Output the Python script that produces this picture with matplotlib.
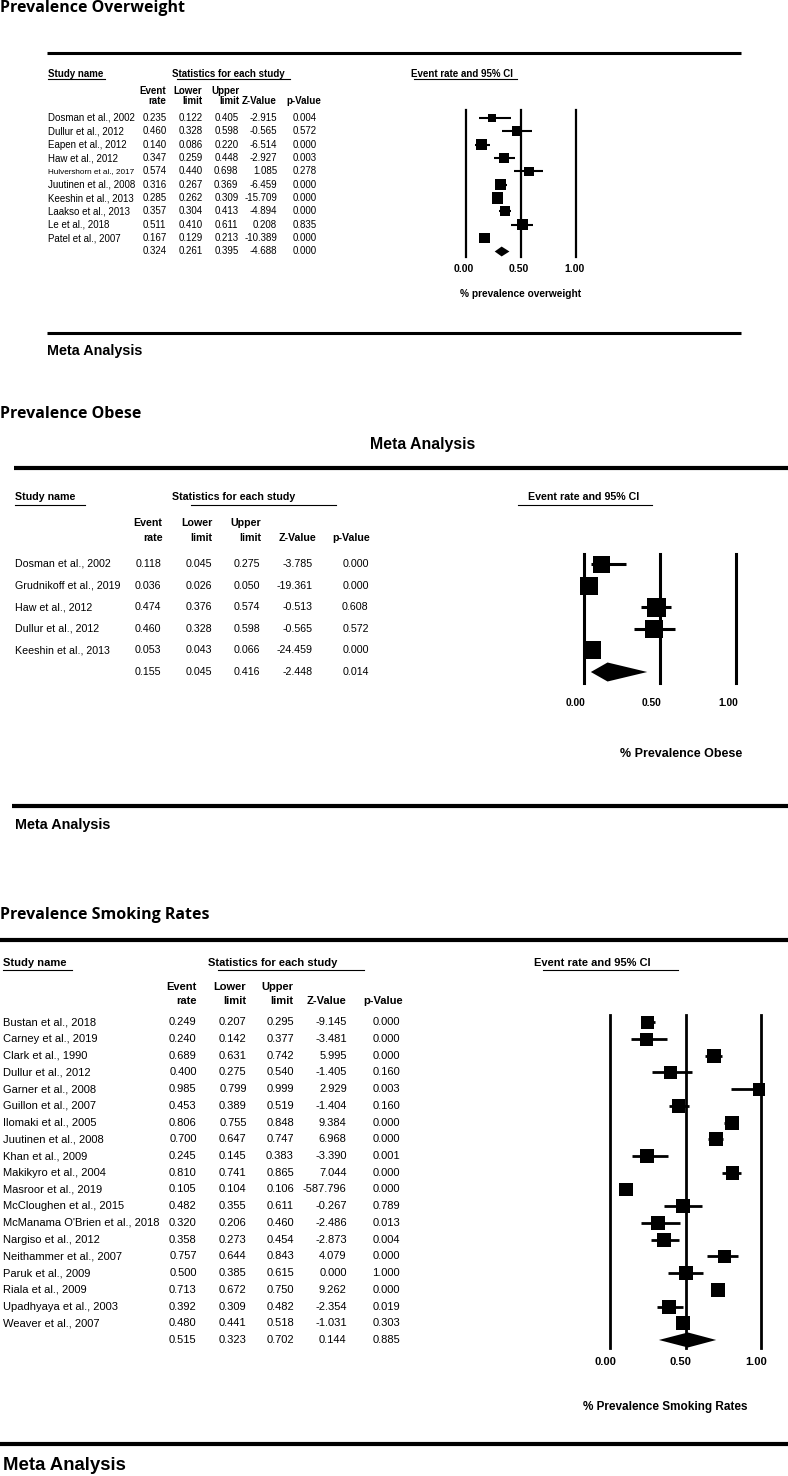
import matplotlib
matplotlib.use("Agg")
import matplotlib.pyplot as plt
from matplotlib.transforms import ScaledTranslation

W, H, DPI = 788, 1476, 100

# ---------------- data ----------------
ow_studies = ["Dosman et al., 2002", "Dullur et al., 2012", "Eapen et al., 2012", "Haw et al., 2012",
              "Hulvershorn et al., 2017", "Juutinen et al., 2008", "Keeshin et al., 2013",
              "Laakso et al., 2013", "Le et al., 2018", "Patel et al., 2007"]
ow_rate = [0.235, 0.460, 0.140, 0.347, 0.574, 0.316, 0.285, 0.357, 0.511, 0.167]
ow_lower = [0.122, 0.328, 0.086, 0.259, 0.440, 0.267, 0.262, 0.304, 0.410, 0.129]
ow_upper = [0.405, 0.598, 0.220, 0.448, 0.698, 0.369, 0.309, 0.413, 0.611, 0.213]
ow_z = [-2.915, -0.565, -6.514, -2.927, 1.085, -6.459, -15.709, -4.894, 0.208, -10.389]
ow_p = [0.004, 0.572, 0.000, 0.003, 0.278, 0.000, 0.000, 0.000, 0.835, 0.000]
ow_summary = [0.324, 0.261, 0.395, -4.688, 0.000]

ob_studies = ["Dosman et al., 2002", "Grudnikoff et al., 2019", "Haw et al., 2012",
              "Dullur et al., 2012", "Keeshin et al., 2013"]
ob_rate = [0.118, 0.036, 0.474, 0.460, 0.053]
ob_lower = [0.045, 0.026, 0.376, 0.328, 0.043]
ob_upper = [0.275, 0.050, 0.574, 0.598, 0.066]
ob_z = [-3.785, -19.361, -0.513, -0.565, -24.459]
ob_p = [0.000, 0.000, 0.608, 0.572, 0.000]
ob_summary = [0.155, 0.045, 0.416, -2.448, 0.014]

sm_studies = ["Bustan et al., 2018", "Carney et al., 2019", "Clark et al., 1990", "Dullur et al., 2012",
              "Garner et al., 2008", "Guillon et al., 2007", "Ilomaki et al., 2005", "Juutinen et al., 2008",
              "Khan et al., 2009", "Makikyro et al., 2004", "Masroor et al., 2019", "McCloughen et al., 2015",
              "McManama O'Brien et al., 2018", "Nargiso et al., 2012", "Neithammer et al., 2007",
              "Paruk et al., 2009", "Riala et al., 2009", "Upadhyaya et al., 2003", "Weaver et al., 2007"]
sm_rate = [0.249, 0.240, 0.689, 0.400, 0.985, 0.453, 0.806, 0.700, 0.245, 0.810, 0.105, 0.482, 0.320,
           0.358, 0.757, 0.500, 0.713, 0.392, 0.480]
sm_lower = [0.207, 0.142, 0.631, 0.275, 0.799, 0.389, 0.755, 0.647, 0.145, 0.741, 0.104, 0.355, 0.206,
            0.273, 0.644, 0.385, 0.672, 0.309, 0.441]
sm_upper = [0.295, 0.377, 0.742, 0.540, 0.999, 0.519, 0.848, 0.747, 0.383, 0.865, 0.106, 0.611, 0.460,
            0.454, 0.843, 0.615, 0.750, 0.482, 0.518]
sm_z = [-9.145, -3.481, 5.995, -1.405, 2.929, -1.404, 9.384, 6.968, -3.390, 7.044, -587.796, -0.267,
        -2.486, -2.873, 4.079, 0.000, 9.262, -2.354, -1.031]
sm_p = [0.000, 0.000, 0.000, 0.160, 0.003, 0.160, 0.000, 0.000, 0.001, 0.000, 0.000, 0.789, 0.013,
        0.004, 0.000, 1.000, 0.000, 0.019, 0.303]
sm_summary = [0.515, 0.323, 0.702, 0.144, 0.885]

axis_ticks = [0.0, 0.5, 1.0]
tick_labels = ["0.00", "0.50", "1.00"]
header_top = ["Event", "Lower", "Upper", "", ""]
header_bottom = ["rate", "limit", "limit", "Z-Value", "p-Value"]

# ---------------- style / layout ----------------
ARIAL = ["Liberation Sans", "DejaVu Sans"]
TITLE = ["Open Sans", "DejaVu Sans"]
NARROW = ["Liberation Sans", "DejaVu Sans"]

ow_box_px = [8.7, 10, 10.7, 10, 9.7, 10.7, 11.3, 10, 11, 10.3]
ob_box_px = [17, 18, 19, 18, 18]
sm_box_px = [13.3, 13, 14, 13.7, 12.7, 13.7, 14, 14, 14, 13.7, 13.7, 14, 14, 14, 13.7, 14, 13.7, 14, 14]

fig = plt.figure(figsize=(W / DPI, H / DPI), dpi=DPI)
bg = fig.add_axes([0, 0, 1, 1])
bg.set_xlim(0, W)
bg.set_ylim(H, 0)
bg.axis("off")


def hrule(x0, x1, y, lw):
    bg.plot([x0, x1], [y, y], color="black", lw=lw, solid_capstyle="butt")


def section(L, studies, rate, lower, upper, z, p, summary, boxes):
    fs = L["fs"]
    # title
    bg.text(0, L["title_y"], L["title"], family=TITLE, fontweight="bold", fontsize=L["title_fs"],
            ha="left", va="center")
    hrule(L["rule_x0"], L["rule_x1"], L["rule_top"], L["rule_lw"])
    hrule(L["rule_x0b"], L["rule_x1"], L["rule_bot"], L["rule_lw"])
    bg.text(L["meta_x"], L["meta_y"], "Meta Analysis", family=NARROW, fontweight="bold",
            fontsize=L["meta_fs"], ha="left", va="center")
    # headings
    bg.text(L["name_x"], L["head_y"], "Study name", family=ARIAL, fontweight="bold", fontsize=L["hfs"],
            ha="left", va="center")
    bg.text(L["stat_x"], L["head_y"], "Statistics for each study", family=ARIAL, fontweight="bold",
            fontsize=L["hfs"], ha="left", va="center")
    bg.text(L["er_x"], L["head_y"], "Event rate and 95% CI", family=ARIAL, fontweight="bold",
            fontsize=L["hfs"], ha=L["er_ha"], va="center")
    for (a, b) in L["underlines"]:
        bg.plot([a, b], [L["ul_y"], L["ul_y"]], color="black", lw=0.8)
    for xr, t1, t2 in zip(L["hcols"], header_top, header_bottom):
        bg.text(xr, L["h1_y"], t1, family=ARIAL, fontweight="bold", fontsize=L["hfs"], ha="right", va="center")
        bg.text(xr, L["h2_y"], t2, family=ARIAL, fontweight="bold", fontsize=L["hfs"], ha="right", va="center")
    # table rows
    n = len(studies)
    for i in range(n + 1):
        y = L["y0"] + i * L["step"]
        if i < n:
            nfs = fs * 0.84 if len(studies[i]) > 22 and L.get("shrink", False) else fs
            bg.text(L["name_x"], y, studies[i], family=ARIAL, fontsize=nfs, ha="left", va="center")
            vals = [rate[i], lower[i], upper[i], z[i], p[i]]
        else:
            vals = summary
        for xr, v in zip(L["vcols"], vals):
            bg.text(xr, y, f"{v:.3f}", family=ARIAL, fontsize=fs, ha="right", va="center")
    # forest axes
    x0, x1, yt, yb, y0, st = L["fx0"], L["fx1"], L["fyt"], L["fyb"], L["y0"], L["step"]
    ax = fig.add_axes([x0 / W, 1 - yb / H, (x1 - x0) / W, (yb - yt) / H])
    ax.set_xlim(0, 1)
    ax.set_ylim((yb - y0) / st, (yt - y0) / st)
    ax.axis("off")
    for t in axis_ticks:
        ax.axvline(t, color="black", lw=L["vlw"], clip_on=False)
    rows = list(range(n))
    ax.hlines(rows, lower, upper, color="black", lw=L["cilw"], clip_on=False)
    ax.scatter(rate, rows, s=[(b * 0.72) ** 2 for b in boxes], marker="s", color="black",
               linewidths=0, clip_on=False, zorder=3)
    est, lo, hi = summary[0], summary[1], summary[2]
    h = L["dia_half"]
    ax.fill([lo, est, hi, est], [n, n - h, n, n + h], color="black", lw=0, clip_on=False, zorder=3)
    ly = (yb - L["tick_y"]) / (yb - yt)
    off = ScaledTranslation(L["tick_dx"] / DPI, 0, fig.dpi_scale_trans)
    for t, lab in zip(axis_ticks, tick_labels):
        ax.text(t, ly, lab, transform=ax.get_xaxis_transform() + off, family=ARIAL, fontweight="bold",
                fontsize=L["tfs"], ha="center", va="center", clip_on=False)
    bg.text(L["xl_x"], L["xl_y"], L["xlabel"], family=ARIAL, fontweight="bold", fontsize=L["xlfs"],
            ha="center", va="center")


ow_layout = dict(title="Prevalence Overweight", title_y=8, title_fs=11.5,
                 rule_x0=47, rule_x0b=47, rule_x1=741, rule_top=53, rule_bot=333, rule_lw=2.2,
                 meta_x=47, meta_y=351, meta_fs=10.4,
                 name_x=48, head_y=74, stat_x=172, er_x=411, er_ha="left", hfs=7.0,
                 underlines=[(48, 105), (177, 290), (414, 517)], ul_y=78.5,
                 h1_y=90.5, h2_y=100.5, hcols=[166.5, 202.5, 240, 277, 321],
                 y0=118, step=13.35, vcols=[166.5, 203, 238.5, 277, 316.5], fs=7.0, shrink=True,
                 fx0=466, fx1=576, fyt=110, fyb=257, vlw=1.6, cilw=1.5, dia_half=0.37,
                 tick_y=269.5, tick_dx=-2, tfs=7.5,
                 xl_x=521, xl_y=294, xlabel="% prevalence overweight", xlfs=7.3)

ob_layout = dict(title="Prevalence Obese", title_y=414, title_fs=11.5,
                 rule_x0=14, rule_x0b=12, rule_x1=788, rule_top=468, rule_bot=806, rule_lw=3,
                 meta_x=15, meta_y=825, meta_fs=10.4,
                 name_x=15, head_y=497, stat_x=172, er_x=584, er_ha="center", hfs=7.7,
                 underlines=[(15, 85), (191, 336), (518, 652)], ul_y=505,
                 h1_y=523.5, h2_y=538, hcols=[162.5, 212.5, 261.5, 316, 370.5],
                 y0=564, step=21.6, vcols=[161.3, 212, 260, 312.7, 368.7], fs=7.7,
                 fx0=584, fx1=736, fyt=554, fyb=683, vlw=2.2, cilw=2.2, dia_half=0.44,
                 tick_y=702.7, tick_dx=-8, tfs=7.4,
                 xl_x=681, xl_y=754, xlabel="% Prevalence Obese", xlfs=9)

sm_layout = dict(title="Prevalence Smoking Rates", title_y=915, title_fs=11.5,
                 rule_x0=0, rule_x0b=0, rule_x1=788, rule_top=939.5, rule_bot=1443.5, rule_lw=3,
                 meta_x=3, meta_y=1465, meta_fs=13.4,
                 name_x=3, head_y=963, stat_x=208, er_x=534, er_ha="left", hfs=8.0,
                 underlines=[(3, 72), (218, 364), (543, 678)], ul_y=970,
                 h1_y=986.7, h2_y=1000.5, hcols=[196.7, 246, 293.7, 346, 402.7],
                 y0=1022.3, step=16.72, vcols=[196.7, 246.7, 294, 346.7, 400], fs=8.0,
                 fx0=610, fx1=761.3, fyt=1015, fyb=1348, vlw=2.0, cilw=2.0, dia_half=0.45,
                 tick_y=1361.7, tick_dx=-5, tfs=8,
                 xl_x=665, xl_y=1406.7, xlabel="% Prevalence Smoking Rates", xlfs=8.5)

section(ow_layout, ow_studies, ow_rate, ow_lower, ow_upper, ow_z, ow_p, ow_summary, ow_box_px)
section(ob_layout, ob_studies, ob_rate, ob_lower, ob_upper, ob_z, ob_p, ob_summary, ob_box_px)
section(sm_layout, sm_studies, sm_rate, sm_lower, sm_upper, sm_z, sm_p, sm_summary, sm_box_px)

bg.text(423, 445, "Meta Analysis", family=ARIAL, fontweight="bold", fontsize=11.4, ha="center", va="center")

fig.savefig("out.png", dpi=DPI)
